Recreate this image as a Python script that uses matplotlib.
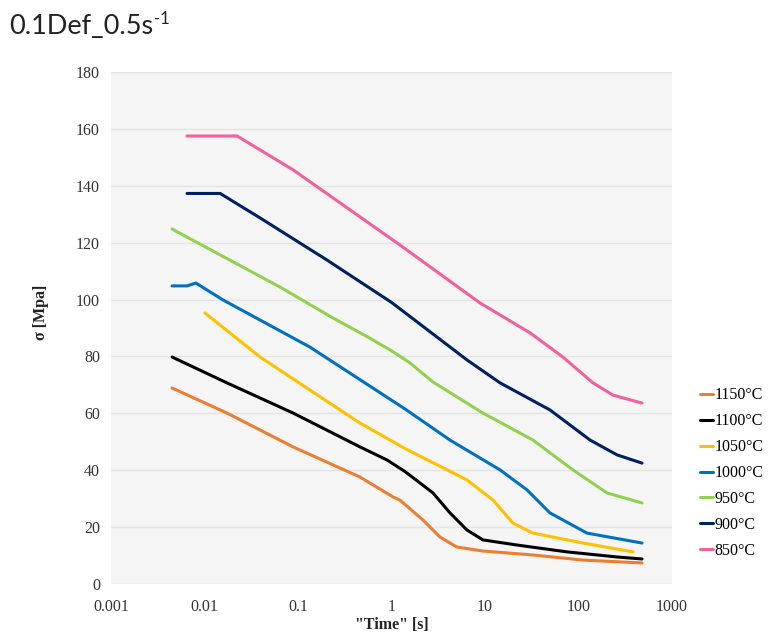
import matplotlib
matplotlib.use("Agg")
import matplotlib.pyplot as plt

plt.rcParams["font.family"] = ["Liberation Serif", "DejaVu Serif"]

# curves (time in s, stress in MPa)
labels = ["1150°C", "1100°C", "1050°C", "1000°C", "950°C", "900°C", "850°C"]
colors = ["#ED7D31", "#000000", "#FFC000", "#0070C0", "#92D050", "#002060", "#F2619A"]

t_1150 = [0.0045, 0.0174, 0.0886, 0.46, 1.04, 1.23, 2.17, 3.3, 5.0, 9.5, 32.6, 112, 478]
s_1150 = [68.9, 60.1, 48.2, 37.6, 30.6, 29.5, 22.5, 16.5, 13.0, 11.6, 10.2, 8.4, 7.4]

t_1100 = [0.0045, 0.0174, 0.0886, 0.46, 0.895, 1.4, 2.78, 4.22, 6.4, 9.5, 22, 75, 258, 478]
s_1100 = [79.8, 70.7, 60.1, 48.2, 43.6, 39.5, 32.0, 25.0, 19.0, 15.5, 13.7, 11.3, 9.5, 8.8]

t_1050 = [0.0101, 0.0393, 0.134, 0.46, 1.4, 6.4, 12.2, 19.9, 32.6, 112, 383]
s_1050 = [95.3, 79.8, 68.2, 56.6, 47.6, 36.6, 29.5, 21.4, 17.9, 14.4, 11.3]

t_1000 = [0.0045, 0.0065, 0.0081, 0.0157, 0.134, 1.4, 4.22, 14.5, 28.1, 49.5, 123, 478]
s_1000 = [104.8, 104.8, 105.8, 99.9, 83.3, 61.5, 50.6, 40.1, 33.1, 25.0, 17.9, 14.4]

t_950 = [0.0045, 0.0147, 0.0642, 0.237, 0.547, 1.0, 1.58, 2.78, 9.5, 32.6, 87.3, 202, 478]
s_950 = [124.8, 115.7, 104.4, 93.5, 87.0, 82.0, 77.7, 71.0, 60.1, 50.6, 40.1, 32.0, 28.5]

t_900 = [0.0065, 0.0147, 0.0393, 0.204, 1.0, 6.4, 14.5, 49.5, 133, 258, 478]
s_900 = [137.3, 137.3, 128.7, 113.9, 99.0, 78.8, 70.7, 61.2, 50.6, 45.4, 42.5]

t_850 = [0.0065, 0.0223, 0.0886, 1.23, 8.85, 14.5, 30.3, 68, 143, 234, 478]
s_850 = [157.5, 157.5, 145.6, 119.2, 98.8, 94.6, 88.3, 79.8, 70.7, 66.4, 63.6]

times = [t_1150, t_1100, t_1050, t_1000, t_950, t_900, t_850]
stresses = [s_1150, s_1100, s_1050, s_1000, s_950, s_900, s_850]

yticks = [0, 20, 40, 60, 80, 100, 120, 140, 160, 180]
xticks = [0.001, 0.01, 0.1, 1, 10, 100, 1000]
xticklabels = ["0.001", "0.01", "0.1", "1", "10", "100", "1000"]

fig = plt.figure(figsize=(7.75, 6.44), dpi=100)
ax = fig.add_axes([111 / 775, 1 - 584 / 644, 561 / 775, 512 / 644])
ax.set_facecolor("#f5f5f5")

for t, s, lab, c in zip(times, stresses, labels, colors):
    ax.plot(t, s, color=c, lw=2.2, label=lab, solid_capstyle="round")

ax.set_xscale("log")
ax.set_xlim(0.001, 1000)
ax.set_ylim(0, 180)
ax.set_xticks(xticks)
ax.set_xticklabels(xticklabels)
ax.set_yticks(yticks)
ax.minorticks_off()
ax.grid(axis="y", color="#e4e4e4", lw=1)
ax.set_axisbelow(True)
for sp in ax.spines.values():
    sp.set_visible(False)
ax.tick_params(length=0, labelsize=11.5, colors="#333333")
ax.tick_params(axis="x", pad=11)
ax.tick_params(axis="y", pad=8)

ax.set_xlabel('"Time" [s]', fontsize=11.5, fontweight="bold", color="#222222", labelpad=1)
ax.set_ylabel("σ [Mpa]", fontsize=11.5, fontweight="bold", color="#222222")
ax.yaxis.set_label_coords(-0.11, 0.53)

# title with a raised "-1"
title = fig.text(9 / 775, 1 - 34 / 644, "0.1Def_0.5s", family="Lato",
                 fontsize=19.5, va="baseline", ha="left", color="#222222")
fig.canvas.draw()
bb = title.get_window_extent()
fig.text(bb.x1 / 775 + 0.001, 1 - 24 / 644, "-1", family="Lato",
         fontsize=12, va="baseline", ha="left", color="#222222")

fig.legend(loc="upper left", bbox_to_anchor=(694 / 775, 1 - 381 / 644),
           frameon=False, handlelength=0.8, handletextpad=0.1,
           labelspacing=0.62, prop={"size": 11.5}, borderaxespad=0)

fig.savefig("out.png", dpi=100)
